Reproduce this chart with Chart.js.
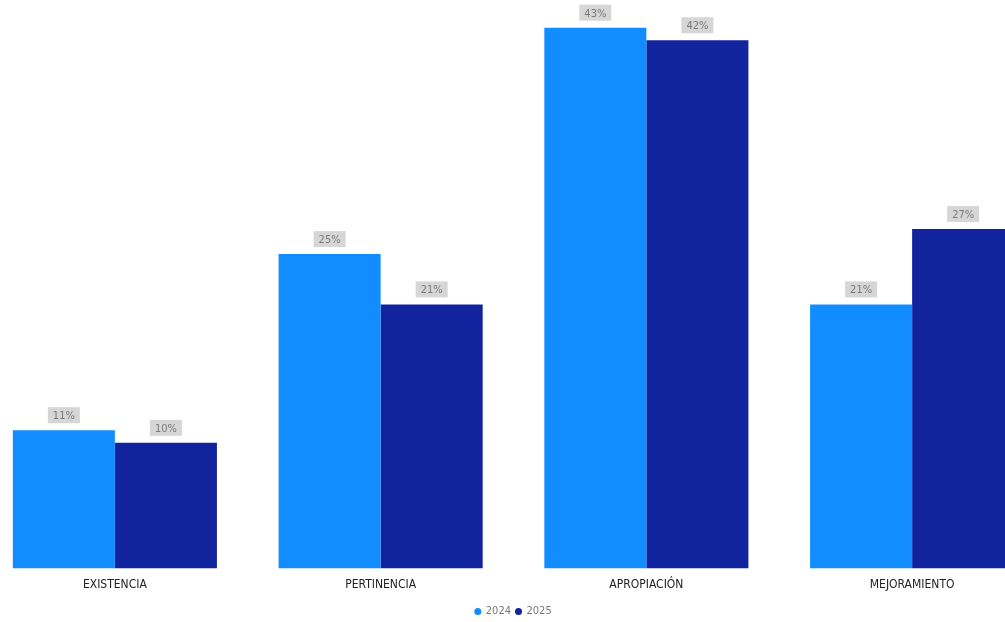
<!DOCTYPE html>
<html>
<head>
<meta charset="utf-8">
<script src="https://cdn.jsdelivr.net/npm/chart.js@4.4.1/dist/chart.umd.min.js"></script>
<style>
    html, body { margin: 0; padding: 0; background: #fff; overflow: hidden; }
    .wrap { position: absolute; left: -18px; top: 0; width: 1063px; height: 627px; }
</style>
</head>
<body>
<div class="wrap"><canvas id="nivelesChart"></canvas></div>
<script>
const categorias = ['EXISTENCIA', 'PERTINENCIA', 'APROPIACIÓN', 'MEJORAMIENTO'];
const anios = ['2024', '2025'];
const valores2024 = [11, 25, 43, 21];
const valores2025 = [10, 21, 42, 27];

const FONT = "'DejaVu Sans Condensed', 'DejaVu Sans', sans-serif";

// Etiqueta de porcentaje con fondo gris sobre cada barra
const etiquetasPlugin = {
    id: 'etiquetas',
    afterDatasetsDraw(chart) {
        const ctx = chart.ctx;
        ctx.save();
        ctx.font = '11px ' + FONT;
        ctx.textAlign = 'center';
        ctx.textBaseline = 'middle';
        chart.data.datasets.forEach(function(ds, i) {
            chart.getDatasetMeta(i).data.forEach(function(bar, j) {
                const text = ds.data[j] + '%';
                const w = ctx.measureText(text).width + 10;
                const h = 16;
                const cy = bar.y - 7 - h / 2;
                ctx.fillStyle = '#d6d6d6';
                ctx.fillRect(bar.x - w / 2, cy - h / 2, w, h);
                ctx.fillStyle = '#7a7a7a';
                ctx.fillText(text, bar.x, cy + 1);
            });
        });
        ctx.restore();
    }
};

new Chart(document.getElementById('nivelesChart'), {
    type: 'bar',
    data: {
        labels: categorias,
        datasets: [
            { label: anios[0], data: valores2024, backgroundColor: '#118DFF' },
            { label: anios[1], data: valores2025, backgroundColor: '#12239E' }
        ]
    },
    options: {
        responsive: true,
        maintainAspectRatio: false,
        animation: false,
        layout: { padding: { top: 0, bottom: 0 } },
        datasets: {
            bar: { categoryPercentage: 0.768, barPercentage: 1, borderWidth: 0 }
        },
        scales: {
            x: {
                grid: { display: false, drawTicks: false },
                border: { display: false },
                ticks: { color: '#222', font: { family: FONT, size: 12 }, padding: 9 }
            },
            y: { display: false, min: 0, max: 45.2 }
        },
        plugins: {
            legend: {
                position: 'bottom',
                labels: {
                    color: '#777',
                    font: { family: FONT, size: 11 },
                    usePointStyle: true,
                    pointStyle: 'circle',
                    boxWidth: 5,
                    boxHeight: 5,
                    padding: 5
                }
            },
            tooltip: { enabled: false }
        }
    },
    plugins: [etiquetasPlugin]
});
</script>
</body>
</html>
